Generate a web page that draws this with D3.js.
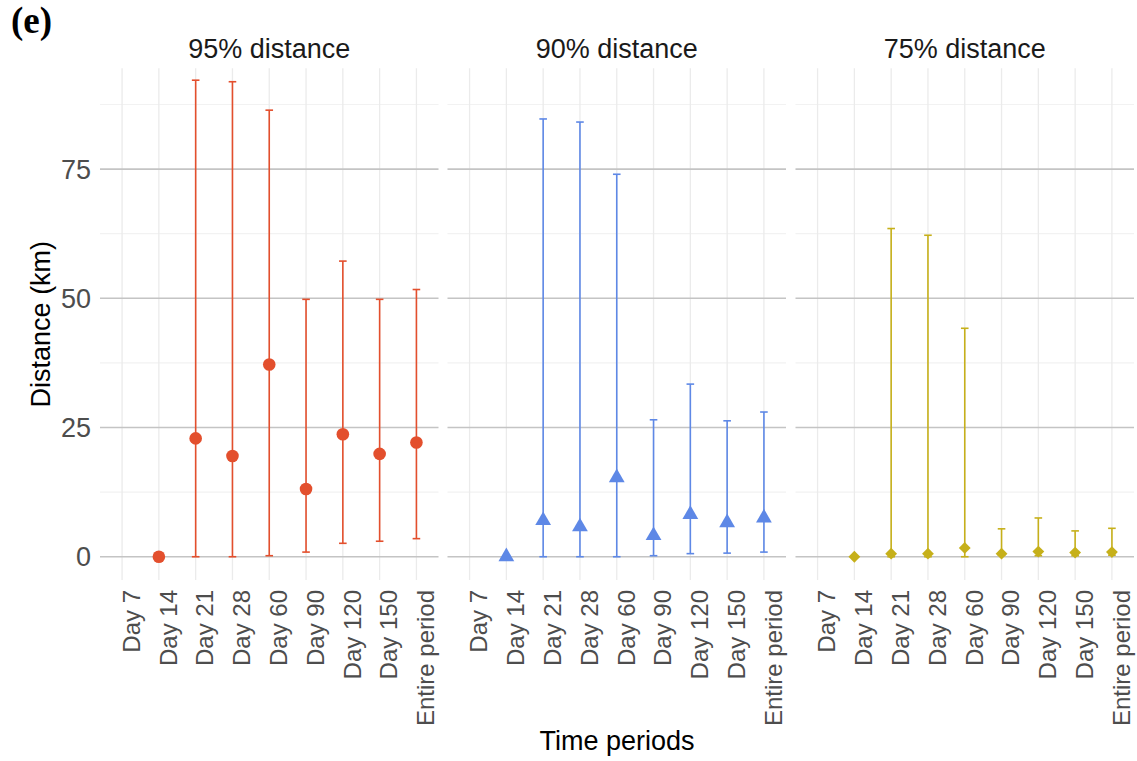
<!DOCTYPE html>
<html>
<head>
<meta charset="utf-8">
<script src="https://cdn.jsdelivr.net/npm/d3@7"></script>
<style>
  html, body { margin: 0; padding: 0; background: #fff; }
  svg { display: block; }
</style>
</head>
<body>
<svg id="chart" width="1137" height="761"></svg>
<script>
// ---- data ----
const categories = ["Day 7", "Day 14", "Day 21", "Day 28", "Day 60", "Day 90", "Day 120", "Day 150", "Entire period"];
const panelTitles = ["95% distance", "90% distance", "75% distance"];
const yTicks = [0, 25, 50, 75];
const yMinorTicks = [12.5, 37.5, 62.5, 87.5];

const d95Mean  = [null, 0,    22.9, 19.5, 37.2, 13.1, 23.7, 19.9, 22.1];
const d95Lower = [null, null, 0,    0,    0.2,  0.9,  2.6,  3.0,  3.5];
const d95Upper = [null, null, 92.2, 91.9, 86.4, 49.8, 57.2, 49.8, 51.7];

const d90Mean  = [null, 0,    7.0,  5.8,  15.3, 4.1,  8.2,  6.6,  7.5];
const d90Lower = [null, null, 0,    0,    0,    0.2,  0.6,  0.7,  0.9];
const d90Upper = [null, null, 84.7, 84.1, 74.0, 26.5, 33.4, 26.3, 28.0];

const d75Mean  = [null, 0,    0.6,  0.6,  1.7,  0.6,  1.0,  0.8,  0.9];
const d75Lower = [null, null, 0,    0,    0,    0.3,  0.2,  0.2,  0.3];
const d75Upper = [null, null, 63.5, 62.2, 44.2, 5.4,  7.5,  5.0,  5.5];

const colors = ["#E34F2D", "#5E88E6", "#C6B01A"];
const shapes = ["circle", "triangle", "diamond"];

const series = [
  { mean: d95Mean, lower: d95Lower, upper: d95Upper },
  { mean: d90Mean, lower: d90Lower, upper: d90Upper },
  { mean: d75Mean, lower: d75Lower, upper: d75Upper }
];

// ---- layout ----
const svg = d3.select("#chart");
const panelX = [100, 447.5, 795.5];
const panelW = 338.5;
const plotTop = 68.3, plotBottom = 580;
const sans = "'Liberation Sans', Arial, sans-serif";

const y = d3.scaleLinear().domain([-4.5, 94.5]).range([plotBottom, plotTop]);

// tag
svg.append("text")
  .attr("x", 11).attr("y", 33)
  .attr("font-family", "'Liberation Serif', 'Times New Roman', serif")
  .attr("font-weight", "bold")
  .attr("font-size", 37)
  .attr("fill", "#000")
  .text("(e)");

// y axis labels
svg.append("g").selectAll("text").data(yTicks).join("text")
  .attr("x", 91).attr("y", d => y(d))
  .attr("dy", "0.36em")
  .attr("text-anchor", "end")
  .attr("font-family", sans)
  .attr("font-size", 27)
  .attr("fill", "#4D4D4D")
  .text(d => d);

// y title
svg.append("text")
  .attr("transform", `translate(50,${(plotTop + plotBottom) / 2}) rotate(-90)`)
  .attr("text-anchor", "middle")
  .attr("font-family", sans)
  .attr("font-size", 27)
  .attr("fill", "#000")
  .text("Distance (km)");

// x title
svg.append("text")
  .attr("x", panelX[0] + (panelX[2] + panelW - panelX[0]) / 2)
  .attr("y", 750)
  .attr("text-anchor", "middle")
  .attr("font-family", sans)
  .attr("font-size", 27)
  .attr("fill", "#000")
  .text("Time periods");

const symbolFor = (shape) => {
  if (shape === "circle") return d3.symbol().type(d3.symbolCircle).size(Math.PI * 6.3 * 6.3)();
  if (shape === "triangle") return d3.symbol().type(d3.symbolTriangle).size(108)();
  return d3.symbol().type(d3.symbolSquare).size(70)();
};

panelTitles.forEach((title, p) => {
  const x = d3.scalePoint().domain(categories).range([panelX[p], panelX[p] + panelW]).padding(0.6);
  const g = svg.append("g");

  // minor horizontal grid
  g.selectAll("line.minor").data(yMinorTicks).join("line")
    .attr("class", "minor")
    .attr("x1", panelX[p]).attr("x2", panelX[p] + panelW)
    .attr("y1", d => y(d)).attr("y2", d => y(d))
    .attr("stroke", "#F2F2F2").attr("stroke-width", 1.2);

  // vertical grid
  g.selectAll("line.vx").data(categories).join("line")
    .attr("class", "vx")
    .attr("x1", d => x(d)).attr("x2", d => x(d))
    .attr("y1", plotTop).attr("y2", plotBottom)
    .attr("stroke", "#EBEBEB").attr("stroke-width", 1.3);

  // major horizontal grid
  g.selectAll("line.major").data(yTicks).join("line")
    .attr("class", "major")
    .attr("x1", panelX[p]).attr("x2", panelX[p] + panelW)
    .attr("y1", d => y(d)).attr("y2", d => y(d))
    .attr("stroke", "#C4C4C4").attr("stroke-width", 1.6);

  // strip title
  svg.append("text")
    .attr("x", panelX[p] + panelW / 2)
    .attr("y", 58)
    .attr("text-anchor", "middle")
    .attr("font-family", sans)
    .attr("font-size", 27)
    .attr("fill", "#1A1A1A")
    .text(title);

  // x tick labels
  g.selectAll("text.xt").data(categories).join("text")
    .attr("class", "xt")
    .attr("transform", d => `translate(${x(d)},590) rotate(-90)`)
    .attr("dy", "0.74em")
    .attr("text-anchor", "end")
    .attr("font-family", sans)
    .attr("font-size", 24)
    .attr("fill", "#4D4D4D")
    .text(d => d);

  const s = series[p];
  const rows = categories.map((c, i) => ({ c, mean: s.mean[i], lo: s.lower[i], hi: s.upper[i] }));
  const bars = rows.filter(r => r.lo !== null && r.hi !== null);
  const pts = rows.filter(r => r.mean !== null);
  const col = colors[p];
  const capW = 3.8;

  const eb = g.append("g").attr("stroke", col).attr("stroke-width", 1.6).attr("fill", "none");
  eb.selectAll("line.v").data(bars).join("line")
    .attr("class", "v")
    .attr("x1", d => x(d.c)).attr("x2", d => x(d.c))
    .attr("y1", d => y(d.lo)).attr("y2", d => y(d.hi));
  eb.selectAll("line.t").data(bars).join("line")
    .attr("class", "t")
    .attr("x1", d => x(d.c) - capW).attr("x2", d => x(d.c) + capW)
    .attr("y1", d => y(d.hi)).attr("y2", d => y(d.hi));
  eb.selectAll("line.b").data(bars).join("line")
    .attr("class", "b")
    .attr("x1", d => x(d.c) - capW).attr("x2", d => x(d.c) + capW)
    .attr("y1", d => y(d.lo)).attr("y2", d => y(d.lo));

  const path = symbolFor(shapes[p]);
  g.selectAll("path.pt").data(pts).join("path")
    .attr("class", "pt")
    .attr("d", path)
    .attr("transform", d => `translate(${x(d.c)},${y(d.mean)})` + (shapes[p] === "diamond" ? " rotate(45)" : ""))
    .attr("fill", col);
});
</script>
</body>
</html>
